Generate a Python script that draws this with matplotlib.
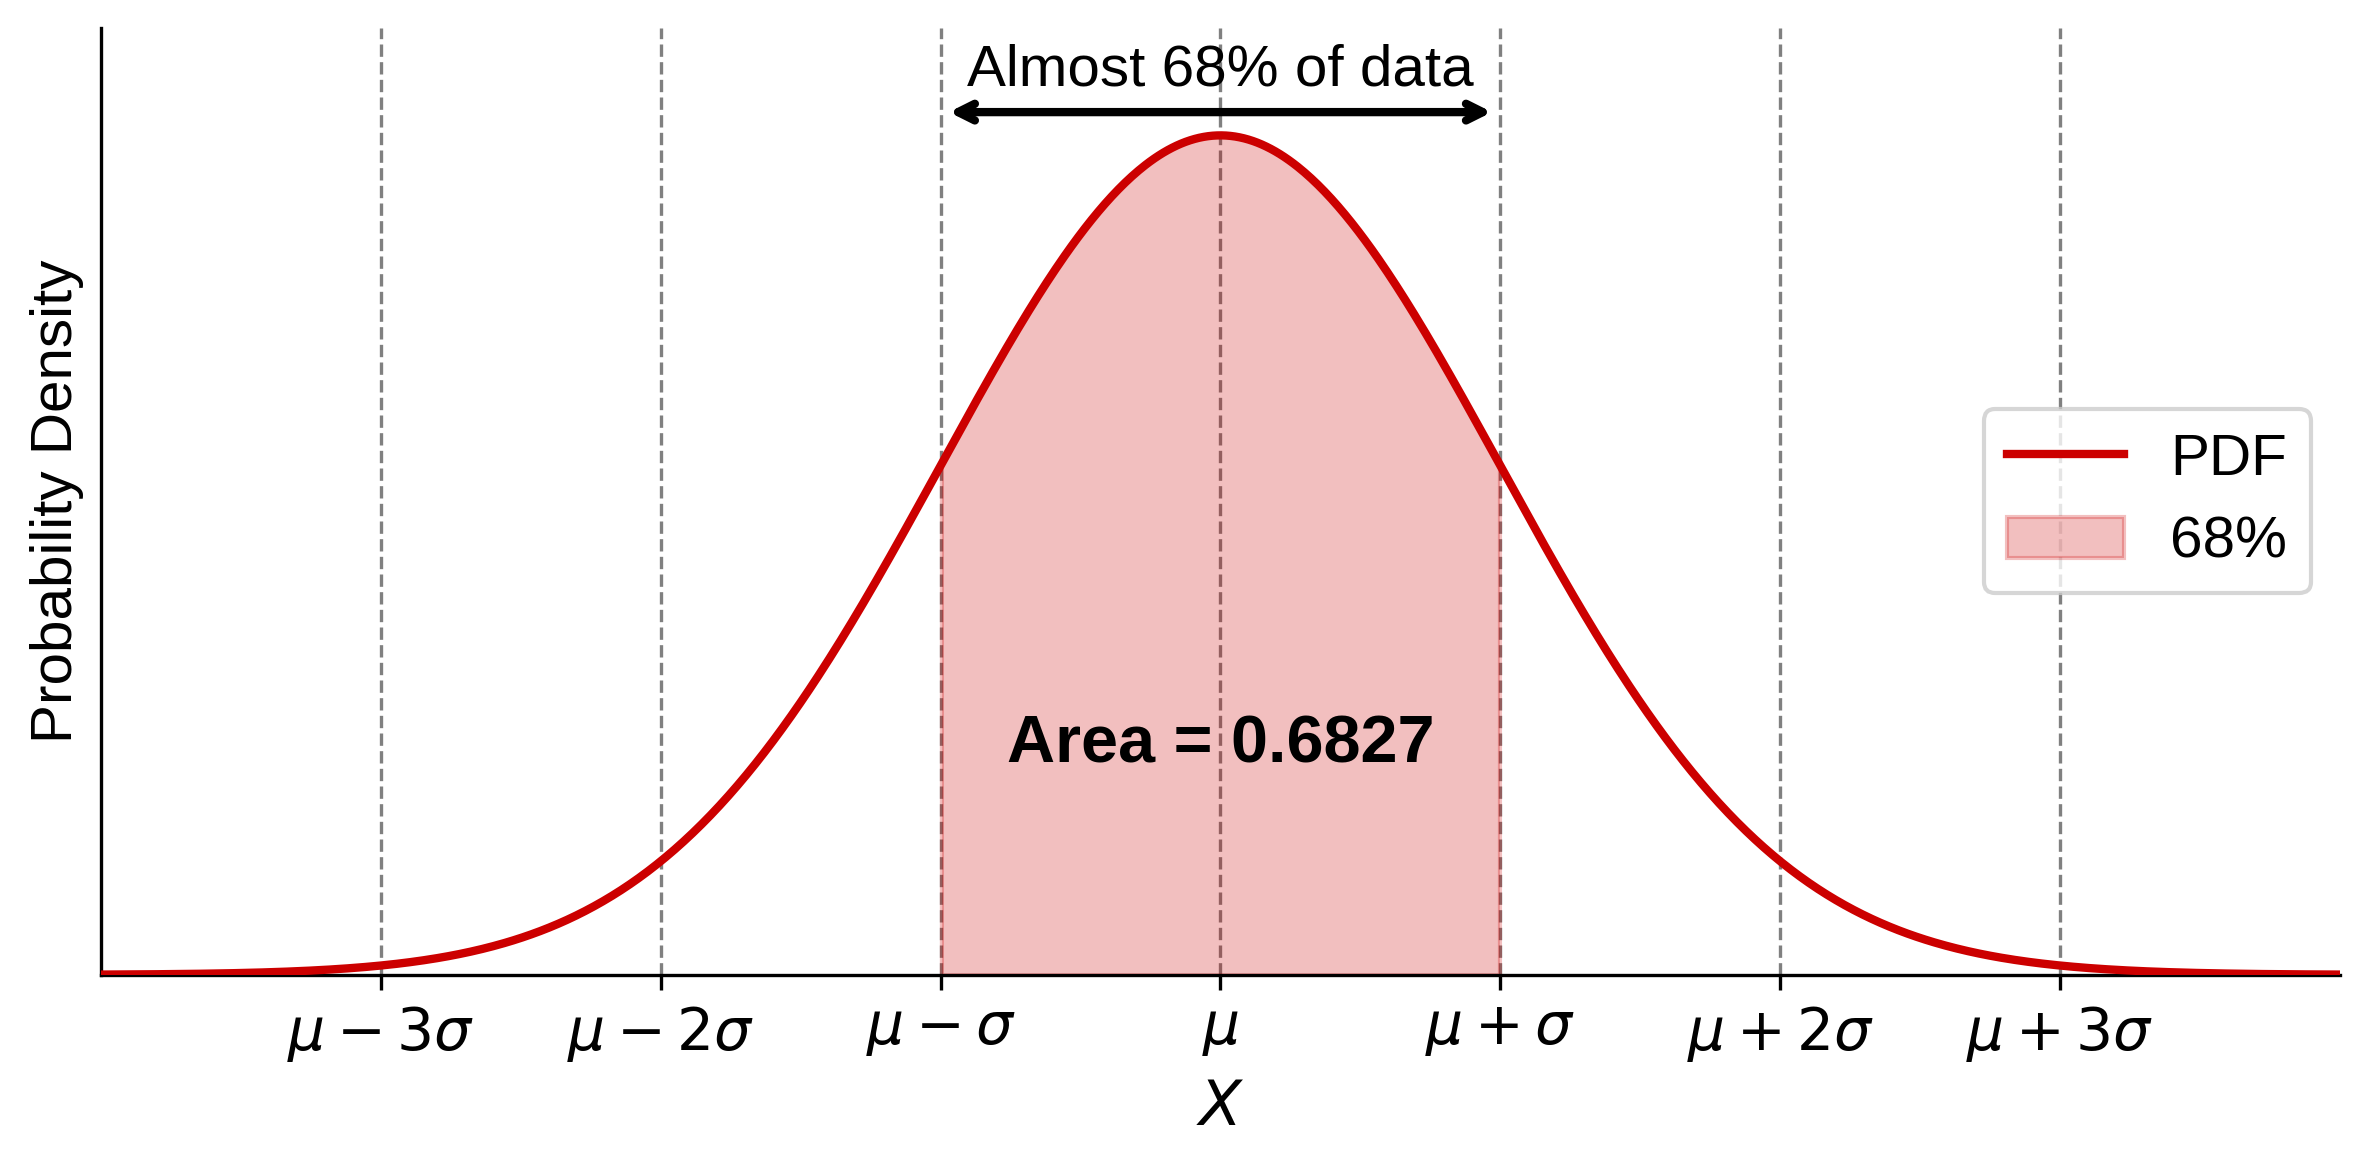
import numpy as np
import matplotlib
matplotlib.use("Agg")
import matplotlib.pyplot as plt

plt.rcParams['font.family'] = ['Liberation Sans', 'DejaVu Sans']

# Data
mu = 0.0
sigma = 1.0
x_range = (-4.0, 4.0)
n_points = 1000
sigma_marks = [-3, -2, -1, 0, 1, 2, 3]
tick_labels = [r'$\mu - 3\sigma$', r'$\mu - 2\sigma$', r'$\mu - \sigma$', r'$\mu$',
               r'$\mu + \sigma$', r'$\mu + 2\sigma$', r'$\mu + 3\sigma$']
fill_range = (-1, 1)
area_text = 'Area = 0.6827'
arrow_text = 'Almost 68% of data'

x = np.linspace(x_range[0], x_range[1], n_points)
pdf = np.exp(-0.5 * ((x - mu) / sigma) ** 2) / (sigma * np.sqrt(2 * np.pi))

fig = plt.figure(figsize=(7.9, 3.88), dpi=300)
ax = fig.add_axes([0.0426, 0.1625, 0.9447, 0.8135])

red = '#cc0000'
ax.plot(x, pdf, color=red, lw=2, label='PDF', zorder=3)
mask = (x >= mu + fill_range[0] * sigma) & (x <= mu + fill_range[1] * sigma)
ax.fill_between(x[mask], pdf[mask], color=red, alpha=0.25, label='68%', zorder=2)

for k in sigma_marks:
    ax.axvline(mu + k * sigma, color='gray', linestyle='--', lw=0.8, zorder=1)

ax.set_xlim(*x_range)
ax.set_ylim(0, 0.45)
ax.set_xticks([mu + k * sigma for k in sigma_marks])
ax.set_xticklabels(tick_labels, fontsize=14)
ax.set_yticks([])
ax.set_xlabel('$X$', fontsize=15, labelpad=3.5)
ax.set_ylabel('Probability Density', fontsize=14)
ax.spines['top'].set_visible(False)
ax.spines['right'].set_visible(False)

ax.annotate('', xy=(mu - sigma, 0.41), xytext=(mu + sigma, 0.41),
            arrowprops=dict(arrowstyle='<->', color='black', lw=2))
ax.text(mu, 0.417, arrow_text, ha='center', va='bottom', fontsize=14)
ax.text(mu, 0.109, area_text, ha='center', va='center', fontsize=16, fontweight='bold')

ax.legend(loc='center right', fontsize=14)

fig.savefig('out.png', dpi=300)
